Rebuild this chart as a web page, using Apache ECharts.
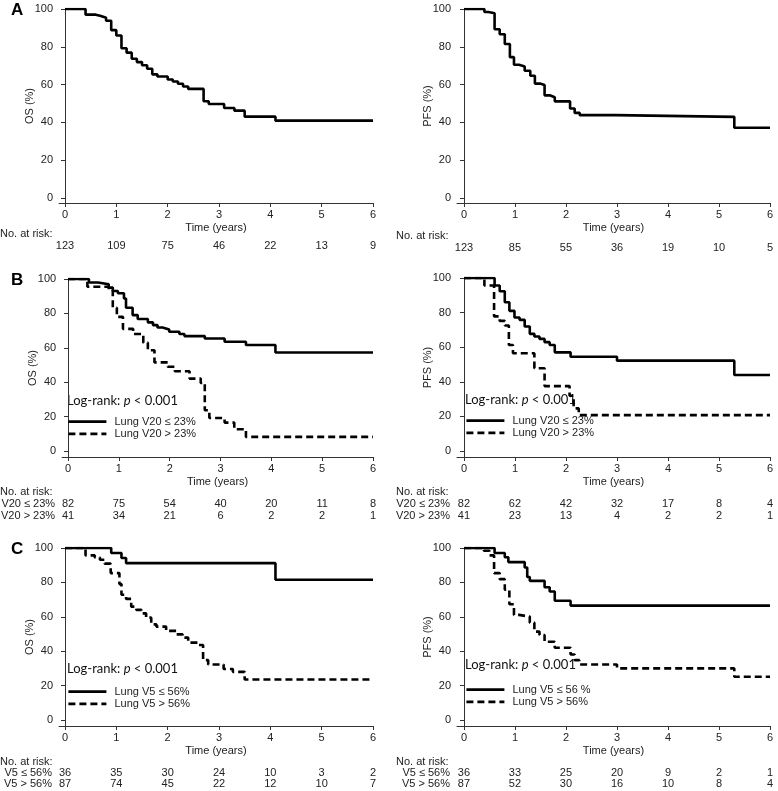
<!DOCTYPE html>
<html>
<head>
<meta charset="utf-8">
<script src="https://cdn.jsdelivr.net/npm/echarts@6/dist/echarts.min.js"></script>
<style>
  html, body { margin: 0; padding: 0; background: #fff; }
  #main { width: 778px; height: 791px; }
</style>
</head>
<body>
<div id="main"></div>
<script>
// 刻度
const timeTicks = [0, 1, 2, 3, 4, 5, 6];
const pctTicks = [0, 20, 40, 60, 80, 100];

// A: all patients
const osAll = [[0,100],[0.4,97],[0.6,96.3],[0.7,95.4],[0.8,93.8],[0.9,88.8],[1.0,86],[1.1,79.2],[1.2,76.9],[1.3,73.7],[1.4,71.9],[1.5,70.2],[1.6,68.4],[1.7,65.4],[1.8,64.3],[2.0,62.7],[2.1,61.6],[2.2,60.4],[2.3,59],[2.4,57.7],[2.7,51.2],[2.8,49.7],[3.1,47.6],[3.3,46.2],[3.5,43],[4.1,40.9],[6,40.9]];
const pfsAll = [[0,100],[0.4,98.4],[0.48,97.7],[0.6,89.3],[0.7,86.6],[0.8,81.5],[0.9,74.5],[0.98,70.5],[1.08,69.6],[1.19,67.3],[1.3,64.7],[1.39,60.5],[1.49,59.8],[1.58,54.3],[1.68,53.3],[1.78,51.1],[2.08,47.3],[2.17,45],[2.27,43.8],[2.98,42.9],[5.3,37.1],[6,37.1]];

// B: lung V20
const osV20Low = [[0,100],[0.41,98],[0.59,96.9],[0.8,95],[0.88,93],[0.98,91.7],[1.1,88.7],[1.14,83.3],[1.27,79],[1.37,76.7],[1.57,74.8],[1.67,73.2],[1.76,71.8],[1.86,70.7],[1.99,69.3],[2.19,68],[2.29,66.8],[2.69,65.4],[3.08,63.5],[3.5,61.6],[4.08,57.3],[6,57.3]];
const osV20High = [[0,100],[0.38,95.5],[0.8,93.6],[0.88,83.3],[0.96,78],[1.08,71],[1.28,68],[1.48,63],[1.57,58.6],[1.7,51.5],[1.96,49],[2.1,46.4],[2.39,42.1],[2.61,39.6],[2.69,23.7],[2.78,19.2],[3.08,16.5],[3.27,12.6],[3.5,8.2],[6,8.2]];
const pfsV20Low = [[0,100],[0.6,95.7],[0.7,92.3],[0.8,86],[0.89,81],[0.99,77.2],[1.09,75.8],[1.19,72],[1.29,67.7],[1.38,66.2],[1.48,64.8],[1.58,62.9],[1.68,61.3],[1.78,57],[2.09,54.5],[3.0,52.2],[5.3,43.9],[6,43.9]];
const pfsV20High = [[0,100],[0.4,95.7],[0.59,77.8],[0.7,75.2],[0.8,72.5],[0.88,61.3],[0.96,56.5],[1.38,47.8],[1.58,37.5],[2.07,31.9],[2.15,24.6],[2.25,20.7],[6,20.7]];

// C: lung V5
const osV5Low = [[0,100],[0.9,97.1],[1.1,94.2],[1.19,91.2],[4.1,81.5],[6,81.5]];
const osV5High = [[0,100],[0.4,95.7],[0.58,94.5],[0.68,93.2],[0.77,90.9],[0.89,85.4],[1.06,79],[1.1,72.8],[1.19,70.4],[1.29,65.9],[1.39,64],[1.49,62],[1.58,59.5],[1.68,55.6],[1.78,54.3],[1.97,51.8],[2.17,49.8],[2.29,47.9],[2.4,45],[2.59,43.6],[2.69,34.8],[2.79,32.3],[3.09,29.6],[3.27,28],[3.5,23.5],[6,23.5]];
const pfsV5Low = [[0,100],[0.6,97.1],[0.8,94.6],[0.87,91.8],[1.19,88.7],[1.24,83.1],[1.29,80.9],[1.58,77.2],[1.68,74.7],[1.78,69.3],[2.09,66.5],[6,66.5]];
const pfsV5High = [[0,100],[0.39,98.4],[0.5,95.7],[0.59,85.4],[0.7,81.9],[0.8,75.7],[0.89,67.3],[0.98,61.1],[1.08,60.1],[1.29,56.6],[1.38,51.4],[1.48,49.4],[1.58,45.5],[1.78,42],[2.09,38.1],[2.17,34.8],[2.26,32.3],[3.0,30],[5.3,25.1],[6,25.1]];

// No. at risk
const riskOsAll = [123, 109, 75, 46, 22, 13, 9];
const riskPfsAll = [123, 85, 55, 36, 19, 10, 5];
const riskOsV20Low = [82, 75, 54, 40, 20, 11, 8];
const riskOsV20High = [41, 34, 21, 6, 2, 2, 1];
const riskPfsV20Low = [82, 62, 42, 32, 17, 8, 4];
const riskPfsV20High = [41, 23, 13, 4, 2, 2, 1];
const riskOsV5Low = [36, 35, 30, 24, 10, 3, 2];
const riskOsV5High = [87, 74, 45, 22, 12, 10, 7];
const riskPfsV5Low = [36, 33, 25, 20, 9, 2, 1];
const riskPfsV5High = [87, 52, 30, 16, 10, 8, 4];

const font = 'Liberation Sans, Arial, sans-serif';
const axisColor = '#333';
const textColor = '#222';

// 面板布局
const panels = [
  { letter: 'A', col: 0, top: 9, height: 194, yMin: -2.7, yName: 'OS (%)',
    curves: [{ name: 'OS', data: osAll }],
    riskTitleY: 235, rows: [{ label: '', values: riskOsAll, y: 246 }] },
  { col: 1, top: 9, height: 194, yMin: -2.7, yName: 'PFS (%)',
    curves: [{ name: 'PFS', data: pfsAll }],
    riskTitleY: 237, rows: [{ label: '', values: riskPfsAll, y: 248 }] },
  { letter: 'B', col: 0, top: 279, height: 178, yMin: -3.5, yName: 'OS (%)',
    curves: [{ name: 'Lung V20 ≤ 23%', data: osV20Low }, { name: 'Lung V20 > 23%', data: osV20High, dashed: true }],
    logRankY: 403, legendY: 423,
    riskTitleY: 493, rows: [{ label: 'V20 ≤ 23%', values: riskOsV20Low, y: 504 }, { label: 'V20 > 23%', values: riskOsV20High, y: 516 }] },
  { col: 1, top: 278, height: 179, yMin: -3.5, yName: 'PFS (%)',
    curves: [{ name: 'Lung V20 ≤ 23%', data: pfsV20Low }, { name: 'Lung V20 > 23%', data: pfsV20High, dashed: true }],
    logRankY: 402, legendY: 422,
    riskTitleY: 493, rows: [{ label: 'V20 ≤ 23%', values: riskPfsV20Low, y: 504 }, { label: 'V20 > 23%', values: riskPfsV20High, y: 516 }] },
  { letter: 'C', col: 0, top: 548, height: 178, yMin: -3.5, yName: 'OS (%)',
    curves: [{ name: 'Lung V5 ≤ 56%', data: osV5Low }, { name: 'Lung V5 > 56%', data: osV5High, dashed: true }],
    logRankY: 671, legendY: 693,
    riskTitleY: 763, rows: [{ label: 'V5 ≤ 56%', values: riskOsV5Low, y: 773 }, { label: 'V5 > 56%', values: riskOsV5High, y: 784 }] },
  { col: 1, top: 548, height: 178, yMin: -3.5, yName: 'PFS (%)',
    curves: [{ name: 'Lung V5 ≤ 56 %', data: pfsV5Low }, { name: 'Lung V5 > 56%', data: pfsV5High, dashed: true }],
    logRankY: 667, legendY: 691,
    riskTitleY: 763, rows: [{ label: 'V5 ≤ 56%', values: riskPfsV5Low, y: 773 }, { label: 'V5 > 56%', values: riskPfsV5High, y: 784 }] }
];
const cols = [
  { left: 59, width: 314, xMin: -0.117, textLeft: 0 },
  { left: 457, width: 313, xMin: -0.137, textLeft: 396 }
];

let grid = [], xAxis = [], yAxis = [], series = [], legend = [], graphic = [];

panels.forEach((p, i) => {
  let c = cols[p.col];
  let axisY = p.top + p.height;
  grid.push({ left: c.left, top: p.top, width: c.width, height: p.height });

  yAxis.push({
    gridIndex: i, type: 'value', min: p.yMin, max: 100,
    name: p.yName, nameLocation: 'middle', nameGap: 24, nameMoveOverlap: false,
    nameTextStyle: { fontFamily: font, fontSize: 11, color: textColor },
    axisLine: { show: true, lineStyle: { color: axisColor, width: 1 } },
    axisTick: { show: true, length: 4, customValues: pctTicks, lineStyle: { color: axisColor } },
    axisLabel: { customValues: pctTicks, margin: 6, fontFamily: font, fontSize: 11, color: textColor },
    splitLine: { show: false }
  });

  let mainX = xAxis.length;
  xAxis.push({
    gridIndex: i, type: 'value', min: c.xMin, max: 6,
    name: 'Time (years)', nameLocation: 'middle', nameGap: 19, nameMoveOverlap: false,
    nameTextStyle: { fontFamily: font, fontSize: 11, color: textColor },
    axisLine: { show: true, onZero: false, lineStyle: { color: axisColor, width: 1 } },
    axisTick: { show: true, length: 4, customValues: timeTicks, lineStyle: { color: axisColor } },
    axisLabel: { customValues: timeTicks, margin: 6, fontFamily: font, fontSize: 11, color: textColor },
    splitLine: { show: false }
  });

  // 风险表: 每行一条隐藏的x轴
  p.rows.forEach(r => {
    xAxis.push({
      gridIndex: i, type: 'value', min: c.xMin, max: 6, position: 'bottom',
      offset: r.y - axisY,
      name: r.label, nameLocation: 'start', nameGap: 7, nameMoveOverlap: false,
      nameTextStyle: { fontFamily: font, fontSize: 11, color: textColor },
      axisLine: { show: false, onZero: false },
      axisTick: { show: false },
      axisLabel: {
        customValues: timeTicks, margin: 0, verticalAlign: 'middle',
        fontFamily: font, fontSize: 11, color: textColor,
        formatter: v => String(r.values[timeTicks.indexOf(Math.round(v))])
      },
      splitLine: { show: false }
    });
  });

  p.curves.forEach(cv => {
    series.push({
      type: 'line', name: cv.name, xAxisIndex: mainX, yAxisIndex: i,
      data: cv.data, step: 'end', symbol: 'none', silent: true,
      lineStyle: { color: '#000', width: 2.6, type: cv.dashed ? [7, 4] : 'solid' },
      itemStyle: { color: '#000' }
    });
  });

  if (p.curves.length > 1) {
    legend.push({
      data: p.curves.map(cv => cv.name),
      orient: 'vertical', left: c.left + 8, top: p.legendY - 7, padding: 0,
      itemWidth: 38, itemHeight: 14, itemGap: 1, selectedMode: false,
      itemStyle: { opacity: 0 },
      lineStyle: { width: 2.8, color: '#000' },
      textStyle: { fontFamily: font, fontSize: 11, color: textColor, padding: [0, 0, 0, 3] }
    });
    graphic.push({
      type: 'text', left: c.left + 8, top: p.logRankY - 9,
      style: {
        text: '{a|Log-rank: }{i|p}{a| < 0.001}',
        rich: {
          a: { fontFamily: 'Lato, Open Sans, sans-serif', fontSize: 13, fill: '#111' },
          i: { fontFamily: 'Lato, Open Sans, sans-serif', fontSize: 13, fontStyle: 'italic', fill: '#111' }
        }
      }
    });
  }

  graphic.push({
    type: 'text', left: c.textLeft, top: p.riskTitleY - 7,
    style: { text: 'No. at risk:', fontFamily: font, fontSize: 11, fill: textColor }
  });

  if (p.letter) {
    graphic.push({
      type: 'text', left: 11, top: p.top - 7,
      style: { text: p.letter, fontFamily: font, fontSize: 17, fontWeight: 'bold', fill: '#000' }
    });
  }
});

let chart = echarts.init(document.getElementById('main'), null, { renderer: 'canvas' });
chart.setOption({
  animation: false,
  backgroundColor: '#fff',
  grid, xAxis, yAxis, series, legend, graphic
});
</script>
</body>
</html>
